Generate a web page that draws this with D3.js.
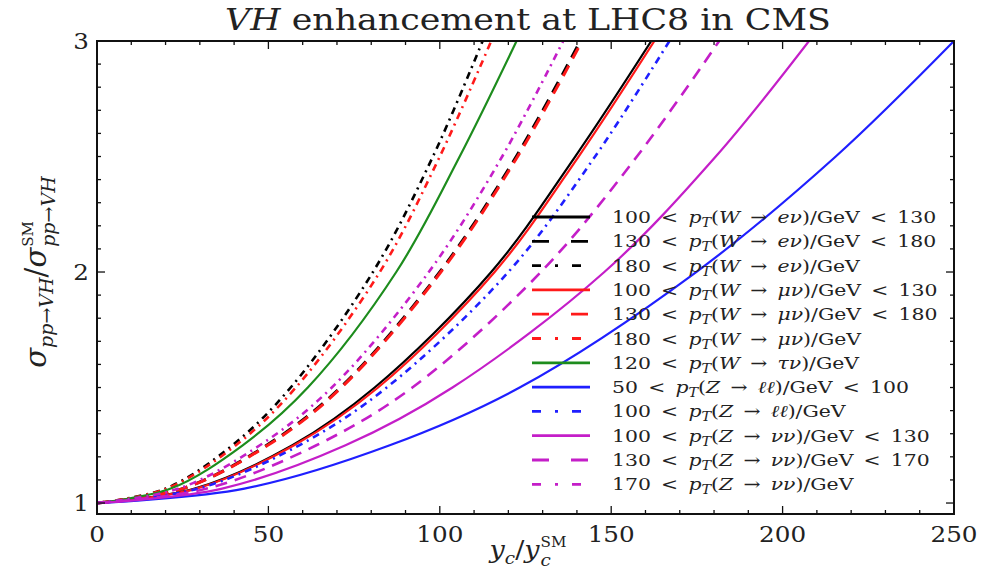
<!DOCTYPE html>
<html>
<head>
<meta charset="utf-8">
<title>VH enhancement at LHC8 in CMS</title>
<script src="https://d3js.org/d3.v7.min.js"></script>
<style>
  body { margin: 0; background: #fff; }
  svg text { font-family: "DejaVu Serif", "Liberation Serif", serif; fill: #222; }
</style>
</head>
<body>
<svg id="chart" width="983" height="579"></svg>
<script>
const yLevels = [1, 1.0625, 1.25, 1.5, 2, 2.5, 3];

const wEnu100  = [0, 28.5, 57, 81, 115, 139.5, 161.7];
const wEnu130  = [0, 25, 49.5, 71, 100, 122.3, 141];
const wEnu180  = [0, 20, 39.5, 56.5, 80.5, 98, 112.5];
const wMunu100 = [0, 29, 57.5, 82, 116, 140.5, 162.6];
const wMunu130 = [0, 25, 49.8, 71.3, 100.3, 122.7, 141.5];
const wMunu180 = [0, 20.3, 40.5, 58, 82.5, 100, 115];
const wTaunu120 = [0, 21.5, 42.5, 61.5, 87.3, 105.8, 122.4];
const zLl50    = [0, 43, 85.4, 123.3, 174.8, 215.5, 250];
const zLl100   = [0, 29.5, 59, 84.5, 120, 145.3, 167];
const zNunu100 = [0, 36.5, 72.5, 103.7, 148, 180.5, 207.7];
const zNunu130 = [0, 32, 64, 92, 129.5, 157.5, 181.5];
const zNunu170 = [0, 23.8, 47.5, 68.5, 96.8, 118.2, 136];

const seriesValues = [wEnu100, wEnu130, wEnu180, wMunu100, wMunu130, wMunu180,
                      wTaunu120, zLl50, zLl100, zNunu100, zNunu130, zNunu170];

// legend label parts
const lowCuts  = ["100", "130", "180", "100", "130", "180", "120", "50", "100", "100", "130", "170"];
const bosons   = ["W", "W", "W", "W", "W", "W", "W", "Z", "Z", "Z", "Z", "Z"];
const decays   = ["eν", "eν", "eν", "μν", "μν", "μν", "τν", "ℓℓ", "ℓℓ", "νν", "νν", "νν"];
const highCuts = ["130", "180", null, "130", "180", null, null, "100", null, "130", "170", null];

const xTicks = [0, 50, 100, 150, 200, 250];
const yTicks = [1, 2, 3];

// styles
const colors = ["#000", "#000", "#000", "#ff1a1a", "#ff1a1a", "#ff1a1a",
                "#1d8c1d", "#1f1fff", "#1f1fff", "#c41ec8", "#c41ec8", "#c41ec8"];
const SOLID = null, DASH = "12,8", DASHDOT = "7,5,2,5";
const dashes = [SOLID, DASH, DASHDOT, SOLID, DASH, DASHDOT,
                SOLID, SOLID, DASHDOT, SOLID, DASH, DASHDOT];
const widths = [2.2, 3, 2.6, 2.2, 3, 2.6, 2.2, 2.2, 2.6, 2.2, 2.6, 2.6];

const svg = d3.select("#chart");
const m = {left: 97, right: 954, top: 41, bottom: 514};

const x = d3.scaleLinear().domain([0, 250]).range([m.left, m.right]);
const y = d3.scaleLinear().domain([0.9525, 3]).range([m.bottom, m.top]);

svg.append("clipPath").attr("id", "clip")
  .append("rect")
  .attr("x", m.left).attr("y", m.top)
  .attr("width", m.right - m.left).attr("height", m.bottom - m.top);

const line = d3.line()
  .x(d => x(d[0])).y(d => y(d[1]))
  .curve(d3.curveCatmullRom.alpha(0.5));

const plot = svg.append("g").attr("clip-path", "url(#clip)");
plot.selectAll("path")
  .data(d3.range(seriesValues.length))
  .join("path")
  .attr("d", i => line(seriesValues[i].map((v, k) => [v, yLevels[k]])))
  .attr("fill", "none")
  .attr("stroke", i => colors[i])
  .attr("stroke-width", i => widths[i])
  .attr("stroke-dasharray", i => dashes[i]);

// frame
svg.append("rect")
  .attr("x", m.left).attr("y", m.top)
  .attr("width", m.right - m.left).attr("height", m.bottom - m.top)
  .attr("fill", "none").attr("stroke", "#111").attr("stroke-width", 2);

// inward ticks on all four sides
const ticks = svg.append("g").attr("stroke", "#111").attr("stroke-width", 1.3);
d3.range(0, 251, 10).forEach(v => {
  const len = v % 50 === 0 ? 8 : 4;
  ticks.append("line").attr("x1", x(v)).attr("x2", x(v)).attr("y1", m.bottom).attr("y2", m.bottom - len);
  ticks.append("line").attr("x1", x(v)).attr("x2", x(v)).attr("y1", m.top).attr("y2", m.top + len);
});
d3.range(1, 3.001, 0.1).forEach(v => {
  const len = Math.abs(v - Math.round(v)) < 1e-6 ? 8 : 4;
  ticks.append("line").attr("y1", y(v)).attr("y2", y(v)).attr("x1", m.left).attr("x2", m.left + len);
  ticks.append("line").attr("y1", y(v)).attr("y2", y(v)).attr("x1", m.right).attr("x2", m.right - len);
});

// tick labels (the reference is a little stretched sideways)
svg.selectAll("text.xt").data(xTicks).join("text")
  .attr("class", "xt")
  .attr("transform", d => `translate(${x(d)},542) scale(1.12,1)`)
  .attr("text-anchor", "middle").attr("font-size", 22)
  .text(d => d);
svg.selectAll("text.yt").data(yTicks).join("text")
  .attr("class", "yt")
  .attr("transform", d => `translate(89,${y(d) + 8}) scale(1.12,1)`)
  .attr("text-anchor", "end").attr("font-size", 22)
  .text(d => d);

// helper: append runs of text with italic / sub / sup
function runs(text, parts) {
  parts.forEach(p => {
    const ts = text.append("tspan").text(p.t);
    if (p.i) ts.attr("font-style", "italic");
    if (p.size) ts.attr("font-size", p.size);
    if (p.dy) ts.attr("dy", p.dy);
    if (p.dx) ts.attr("dx", p.dx);
  });
  return text;
}

// label with a stacked sup/sub at its end, centred on 0
function stackedLabel(g, size, mainParts, sup, sub) {
  const main = runs(g.append("text").attr("font-size", size), mainParts);
  const w = main.node().getComputedTextLength();
  const t1 = g.append("text").attr("x", w + 1).attr("y", -size * 0.45)
    .attr("font-size", sup.size).text(sup.t);
  const t2 = runs(g.append("text").attr("x", w + 1).attr("y", size * 0.3)
    .attr("font-size", sub.size), [{t: sub.t, i: true}]);
  const total = w + 1 + Math.max(t1.node().getComputedTextLength(), t2.node().getComputedTextLength());
  g.selectAll("text").attr("transform", `translate(${-total / 2},0)`);
}

// title
runs(svg.append("text")
  .attr("transform", "translate(528,30) scale(1.2,1)")
  .attr("text-anchor", "middle").attr("font-size", 29),
  [{t: "VH", i: true}, {t: " enhancement at LHC8 in CMS"}]);

// x label
stackedLabel(svg.append("g").attr("transform", "translate(528,558) scale(1.08,1)"), 25,
  [{t: "y", i: true}, {t: "c", i: true, size: 17, dy: 6}, {t: "/", dy: -6}, {t: "y", i: true}],
  {t: "SM", size: 14}, {t: "c", size: 17});

// y label
stackedLabel(svg.append("g").attr("transform", "translate(46,272) rotate(-90)"), 29,
  [{t: "σ", i: true}, {t: "pp→VH", i: true, size: 19, dy: 7}, {t: "/", dy: -7}, {t: "σ", i: true}],
  {t: "SM", size: 15}, {t: "pp→VH", size: 19});

// legend
const legY0 = 217, legStep = 24.3;
const sp = "\u2002";
const leg = svg.append("g");
seriesValues.forEach((s, i) => {
  const yy = legY0 + i * legStep;
  leg.append("line")
    .attr("x1", 532).attr("x2", 590).attr("y1", yy).attr("y2", yy)
    .attr("stroke", colors[i]).attr("stroke-width", 2.8)
    .attr("stroke-dasharray", dashes[i] === DASH ? "17,22" : dashes[i] === DASHDOT ? "9,14,3,14" : null);
  const parts = [{t: lowCuts[i] + sp + "<" + sp}, {t: "p", i: true},
                 {t: "T", i: true, size: 12, dy: 4},
                 {t: "(", dy: -4}, {t: bosons[i], i: true}, {t: sp + "→" + sp},
                 {t: decays[i], i: true},
                 {t: ")/GeV" + (highCuts[i] ? sp + "<" + sp + highCuts[i] : "")}];
  runs(leg.append("text")
    .attr("transform", `translate(612,${yy + 6}) scale(1.2,1)`)
    .attr("font-size", 17), parts);
});
</script>
</body>
</html>
